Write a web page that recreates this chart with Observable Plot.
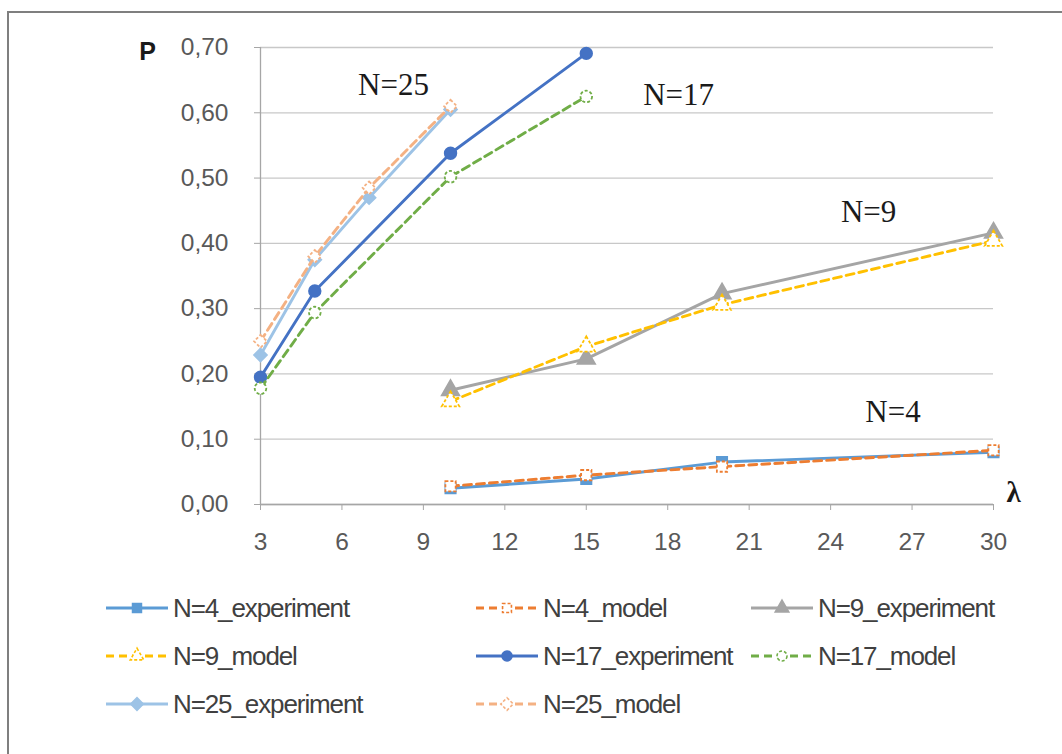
<!DOCTYPE html>
<html>
<head>
<meta charset="utf-8">
<script src="https://cdn.jsdelivr.net/npm/d3@7"></script>
<script src="https://cdn.jsdelivr.net/npm/@observablehq/plot@0.6"></script>
<style>
  html, body { margin: 0; padding: 0; background: #fff; }
  #chart { position: relative; width: 1062px; height: 754px; overflow: hidden; background: #fff; }
  #frame { position: absolute; left: 7px; top: 11px; width: 1100px; height: 800px;
           border-left: 2px solid #7f7f7f; border-top: 2px solid #7f7f7f; }
  #plot { position: absolute; left: 0; top: 0; }
  #legend { position: absolute; left: 105px; top: 584px; display: grid;
            grid-template-columns: 370px 275px 260px; grid-auto-rows: 48px;
            font-family: "Liberation Sans", Arial, sans-serif; font-size: 26px;
            letter-spacing: -1.1px; color: #404040; }
  .item { display: flex; align-items: center; white-space: nowrap; }
  .item svg { margin-right: 4px; flex: none; }
</style>
</head>
<body>
<div id="chart">
  <div id="frame"></div>
  <div id="plot"></div>
  <div id="legend"></div>
</div>
<script>
// ---- data ----
const seriesNames   = ["N=4_experiment", "N=4_model", "N=9_experiment", "N=9_model",
                       "N=17_experiment", "N=17_model", "N=25_experiment", "N=25_model"];
const seriesColors  = ["#5b9bd5", "#ed7d31", "#a5a5a5", "#ffc000",
                       "#4472c4", "#70ad47", "#9dc3e6", "#f4b183"];
const seriesSymbols = ["square", "square", "triangle", "triangle",
                       "circle", "circle", "diamond2", "diamond2"];
const seriesDashed  = [false, true, false, true, false, true, false, true];

const lambdaN4  = [10, 15, 20, 30];
const pN4exp    = [0.025, 0.039, 0.065, 0.080];
const pN4model  = [0.028, 0.045, 0.058, 0.083];
const lambdaN9  = [10, 15, 20, 30];
const pN9exp    = [0.175, 0.223, 0.323, 0.416];
const pN9model  = [0.158, 0.242, 0.306, 0.404];
const lambdaN17 = [3, 5, 10, 15];
const pN17exp   = [0.195, 0.327, 0.538, 0.691];
const pN17model = [0.178, 0.294, 0.502, 0.625];
const lambdaN25 = [3, 5, 7, 10];
const pN25exp   = [0.229, 0.375, 0.470, 0.605];
const pN25model = [0.250, 0.380, 0.485, 0.610];

const seriesLambda = [lambdaN4, lambdaN4, lambdaN9, lambdaN9, lambdaN17, lambdaN17, lambdaN25, lambdaN25];
const seriesP      = [pN4exp, pN4model, pN9exp, pN9model, pN17exp, pN17model, pN25exp, pN25model];

const xTicks = [3, 6, 9, 12, 15, 18, 21, 24, 27, 30];
const yTicks = [0, 0.1, 0.2, 0.3, 0.4, 0.5, 0.6, 0.7];

const annoText   = ["N=25", "N=17", "N=9", "N=4"];
const annoLambda = [7.9, 18.4, 25.4, 26.3];
const annoP      = [0.643, 0.627, 0.448, 0.142];

// ---- build ----
const series = seriesNames.map((name, i) => ({
  name, color: seriesColors[i], symbol: seriesSymbols[i], dashed: seriesDashed[i],
  data: seriesLambda[i].map((l, j) => ({lambda: l, p: seriesP[i][j]}))
}));
const annos = annoText.map((t, i) => ({t, lambda: annoLambda[i], p: annoP[i]}));
const fmt = d => d.toFixed(2).replace(".", ",");

const sansFont = "Liberation Sans, Arial, sans-serif";
const marks = [
  Plot.gridY(yTicks, {stroke: "#c8c8c8", strokeOpacity: 1, strokeWidth: 1.3}),
  Plot.ruleX([3], {stroke: "#a6a6a6", strokeWidth: 1.3}),
  Plot.ruleY([0], {stroke: "#a6a6a6", strokeWidth: 1.3}),
  Plot.axisY(yTicks, {tickSize: 6, tickFormat: () => "", color: "#a6a6a6", label: null}),
  Plot.axisY(yTicks, {tickSize: 0, tickPadding: 32, tickFormat: fmt, color: "#595959",
                      fontSize: 24.5, fontFamily: sansFont, label: null}),
  Plot.axisX(xTicks, {tickSize: 6, tickFormat: () => "", color: "#a6a6a6", label: null}),
  Plot.axisX(xTicks, {tickSize: 0, tickPadding: 28, color: "#595959",
                      fontSize: 24.5, fontFamily: sansFont, label: null})
];
for (const s of series) {
  marks.push(Plot.line(s.data, {x: "lambda", y: "p", stroke: s.color, strokeWidth: 2.9,
    strokeDasharray: s.dashed ? "8,5" : null}));
  marks.push(Plot.dot(s.data, {x: "lambda", y: "p", symbol: s.symbol,
    r: s.symbol === "triangle" ? 6.5 : 5.8,
    fill: s.dashed ? "white" : s.color, stroke: s.color, strokeWidth: 1.8,
    strokeDasharray: s.dashed ? "3,2" : null}));
}
marks.push(Plot.text(annos, {x: "lambda", y: "p", text: "t", fontFamily: "Liberation Serif, serif",
  fontSize: 31, fill: "#1a1a1a"}));
marks.push(Plot.text(["P"], {frameAnchor: "top-left", dx: -113, dy: 4, textAnchor: "middle",
  lineAnchor: "middle", fontFamily: sansFont, fontWeight: "bold", fontSize: 25, fill: "#1a1a1a"}));
marks.push(Plot.text(["λ"], {frameAnchor: "bottom-right", dx: 20, dy: -12, textAnchor: "middle",
  lineAnchor: "middle", fontFamily: "Liberation Serif, serif", fontWeight: "bold", fontSize: 29, fill: "#1a1a1a"}));

const chart = Plot.plot({
  width: 1062, height: 580,
  marginLeft: 260, marginRight: 69, marginTop: 47, marginBottom: 76,
  x: {domain: [3, 30], axis: null},
  y: {domain: [0, 0.7], axis: null},
  style: {background: "transparent", overflow: "visible"},
  marks
});
document.getElementById("plot").appendChild(chart);

// ---- legend ----
const legend = d3.select("#legend");
for (const s of series) {
  const item = legend.append("div").attr("class", "item");
  const sw = item.append("svg").attr("width", 64).attr("height", 20);
  sw.append("line").attr("x1", 1).attr("x2", 63).attr("y1", 10).attr("y2", 10)
    .attr("stroke", s.color).attr("stroke-width", 3)
    .attr("stroke-dasharray", s.dashed ? "8,5" : null);
  const symType = {square: d3.symbolSquare, triangle: d3.symbolTriangle, circle: d3.symbolCircle,
                   diamond2: d3.symbolSquare}[s.symbol];
  sw.append("path").attr("d", d3.symbol(symType, Math.PI * 5 * 5)())
    .attr("transform", `translate(32,10)` + (s.symbol === "diamond2" ? " rotate(45)" : ""))
    .attr("fill", s.dashed ? "white" : s.color).attr("stroke", s.color).attr("stroke-width", 1.6)
    .attr("stroke-dasharray", s.dashed ? "3,2" : null);
  item.append("span").text(s.name);
}
</script>
</body>
</html>
